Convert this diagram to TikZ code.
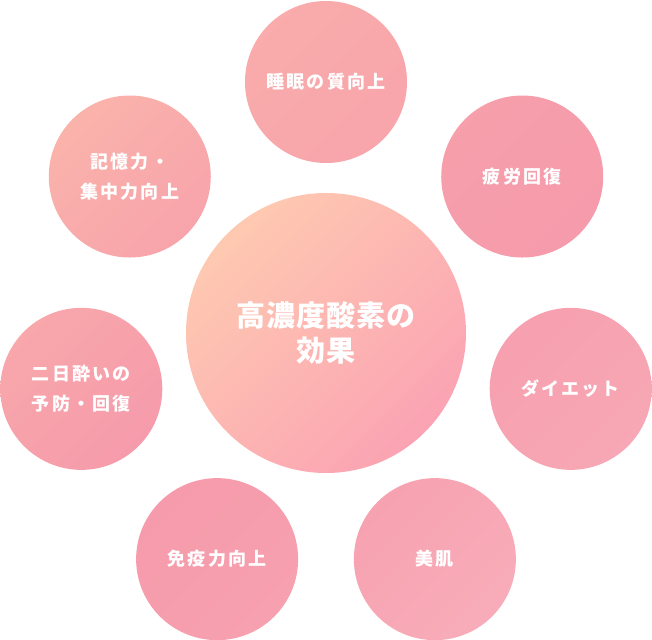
\documentclass[tikz,border=0pt]{standalone}
\usepackage{fontspec}
\usepackage{xcolor}
\usepackage{tikz}
\newfontfamily\jpsat{Noto Sans CJK JP}[LetterSpace=12]
\newfontfamily\jpcore{Noto Sans CJK JP}[LetterSpace=3]
\definecolor{peach}{HTML}{FEC9B1}
\definecolor{rosecore}{HTML}{FBA3B3}
\definecolor{salmon}{HTML}{FAB3AB}
\definecolor{rosemid}{HTML}{F69BAB}
\definecolor{roselight}{HTML}{F8ACB9}

\begin{document}
\begin{tikzpicture}[x=1bp, y=1bp,
  effect/.style={circle, minimum size=162bp, inner sep=0pt, align=center, text=white,
    font=\jpsat\bfseries\fontsize{18bp}{30bp}\selectfont},
  tint/.style 2 args={top color=#1, bottom color=#2, shading angle=45}]
\useasboundingbox (-326,-307) rectangle (326,333);
\node[effect, minimum size=280bp, tint={peach}{rosecore},
  font=\jpcore\bfseries\fontsize{29bp}{35.5bp}\selectfont] (core) at (0,0) {高濃度酸素の\\効果};
\node[effect, tint={salmon!70!rosemid}{rosemid!60!salmon}] (sleep) at (90:251) {睡眠の質向上};
\node[effect, tint={rosemid!85!salmon}{rosemid}] (fatigue) at (38.57:251) {疲労回復};
\node[effect, tint={rosemid!70!roselight}{roselight!70!rosemid}] (diet) at (-12.86:251) {ダイエット};
\node[effect, tint={rosemid!60!roselight}{roselight}] (skin) at (-64.29:251) {美肌};
\node[effect, tint={rosemid}{rosemid!70!roselight}] (immune) at (-115.71:251) {免疫力向上};
\node[effect, tint={salmon!50!rosemid}{rosemid}] (hangover) at (-167.14:251) {二日酔いの\\予防・回復};
\node[effect, tint={salmon}{rosemid!65!salmon}] (memory) at (141.43:251) {記憶力・\\集中力向上};
\end{tikzpicture}
\end{document}
